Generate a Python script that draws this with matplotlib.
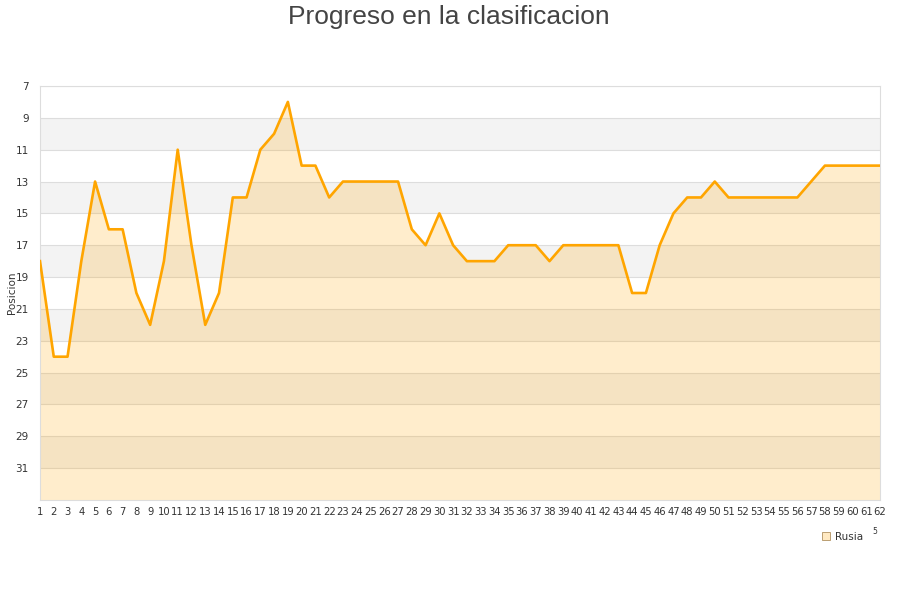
import matplotlib
matplotlib.use("Agg")
import matplotlib.pyplot as plt
from matplotlib.lines import Line2D

jornadas = list(range(1, 63))
posicion = [18, 24, 24, 18, 13, 16, 16, 20, 22, 18,
            11, 17, 22, 20, 14, 14, 11, 10, 8, 12,
            12, 14, 13, 13, 13, 13, 13, 16, 17, 15,
            17, 18, 18, 18, 17, 17, 17, 18, 17, 17,
            17, 17, 17, 20, 20, 17, 15, 14, 14, 13,
            14, 14, 14, 14, 14, 14, 13, 12, 12, 12,
            12, 12]
y_ticks = list(range(7, 32, 2))
serie = "Rusia"
titulo = "Progreso en la clasificacion"
ylabel = "Posicion"

fig = plt.figure(figsize=(9, 6), dpi=100)
ax = fig.add_axes([40/900, 100/600, 840/900, 414/600])

ymin, ymax = 7, 33
ax.set_xlim(1, 62)
ax.set_ylim(ymax, ymin)

# alternating bands
for t in range(9, 33, 4):
    ax.axhspan(t, t + 2, color="#f3f3f3", zorder=0, lw=0)
for t in y_ticks:
    ax.axhline(t, color="#dddddd", lw=0.8, zorder=1)

ax.fill_between(jornadas, posicion, ymax, color="#ffa500", alpha=0.2, lw=0, zorder=2)
ax.plot(jornadas, posicion, color="#ffa500", lw=1.9, zorder=3)

ax.set_yticks(y_ticks)
ax.set_xticks(jornadas)
ax.set_xticklabels([str(j) for j in jornadas], fontsize=8, color="#333333",
                   fontstretch="condensed")
ax.tick_params(axis="y", labelsize=7.5, colors="#333333", length=0, pad=8)
ax.tick_params(axis="x", length=0, pad=5)
for s in ax.spines.values():
    s.set_color("#dddddd")
    s.set_linewidth(0.8)

ax.set_ylabel(ylabel, fontsize=7.5, color="#333333")
ax.yaxis.set_label_coords(-0.027, 0.5)

fig.text(449/900, 1 - 17/600, titulo, ha="center", va="center", fontsize=19,
         color="#444444", family="Liberation Sans")

handle = Line2D([], [], marker="s", linestyle="none", markersize=6,
                markerfacecolor="#ffe9c2", markeredgecolor="#b09060", markeredgewidth=0.6)
leg = fig.legend([handle], [serie], loc="center", bbox_to_anchor=(842/900, 1 - 537/600),
                 frameon=False, fontsize=7.5, handletextpad=0.3, borderpad=0,
                 handlelength=1.0)
for t in leg.get_texts():
    t.set_color("#333333")
fig.text(875/900, 1 - 532/600, "5", fontsize=5.5, color="#333333", ha="center", va="center")

fig.savefig("out.png", dpi=100)
